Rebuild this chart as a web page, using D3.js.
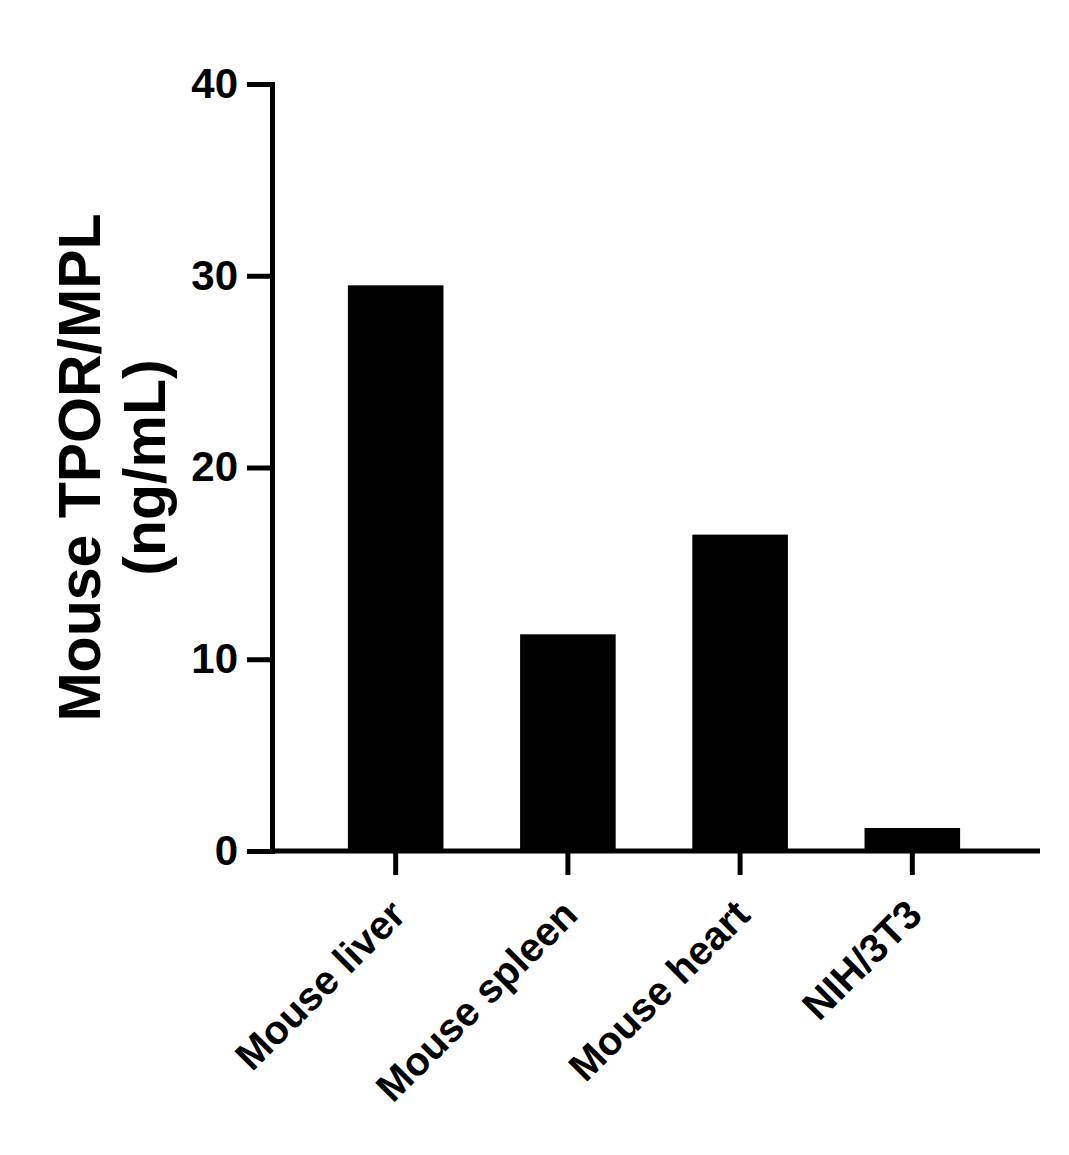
<!DOCTYPE html>
<html>
<head>
<meta charset="utf-8">
<script src="https://cdn.jsdelivr.net/npm/d3@7"></script>
<style>
  body { margin: 0; background: #fff; }
  text { font-family: "Liberation Sans", Arial, sans-serif; font-weight: bold; }
</style>
</head>
<body>
<div id="chart"></div>
<script>
const categories = ["Mouse liver", "Mouse spleen", "Mouse heart", "NIH/3T3"];
const values = [29.5, 11.3, 16.5, 1.2];
const yTicks = [0, 10, 20, 30, 40];
const yTitle = ["Mouse TPOR/MPL", "(ng/mL)"];

const W = 1069, H = 1155;
const margin = {top: 84, left: 272, right: 29, bottom: 304};
const width = W - margin.left - margin.right,
      height = H - margin.top - margin.bottom;

const svg = d3.select("#chart").append("svg")
    .attr("width", W).attr("height", H);
const g = svg.append("g")
    .attr("transform", "translate(" + margin.left + "," + margin.top + ")");

const x = d3.scaleBand()
    .domain(categories)
    .range([38, width - 42])
    .paddingInner(0.445)
    .paddingOuter(0.22);

const y = d3.scaleLinear()
    .domain([0, 40])
    .range([height, 0]);

// bars
g.selectAll("rect.bar")
    .data(categories)
    .enter().append("rect")
    .attr("class", "bar")
    .attr("x", d => x(d))
    .attr("width", x.bandwidth())
    .attr("y", (d, i) => y(values[i]))
    .attr("height", (d, i) => y(0) - y(values[i]))
    .attr("fill", "#000");

// y axis
const yAxis = g.append("g")
    .call(d3.axisLeft(y).tickValues(yTicks).tickSize(25).tickSizeOuter(0).tickPadding(9));
yAxis.select(".domain").attr("stroke-width", 5).attr("stroke-linecap", "square");
yAxis.selectAll(".tick line").attr("stroke-width", 5);
yAxis.selectAll(".tick text").attr("font-size", 42).attr("fill", "#000");

// x axis
const xAxis = g.append("g")
    .attr("transform", "translate(0," + height + ")")
    .call(d3.axisBottom(x).tickSize(24).tickSizeOuter(0).tickPadding(0));
xAxis.select(".domain").attr("d", "M0,0H" + width).attr("stroke-width", 5);
xAxis.selectAll(".tick line").attr("stroke-width", 5);
xAxis.selectAll(".tick text")
    .attr("font-size", 40)
    .attr("fill", "#000")
    .attr("text-anchor", "end")
    .attr("x", 0).attr("y", 0).attr("dy", 0)
    .attr("transform", "translate(12,66) rotate(-45)");

// y title
const title = svg.append("text")
    .attr("transform", "translate(100," + (margin.top + height / 2 - 0) + ") rotate(-90)")
    .attr("text-anchor", "middle")
    .attr("font-size", 59)
    .attr("fill", "#000");
title.selectAll("tspan")
    .data(yTitle)
    .enter().append("tspan")
    .attr("x", 0)
    .attr("dy", (d, i) => i === 0 ? 0 : 65)
    .text(d => d);
</script>
</body>
</html>
